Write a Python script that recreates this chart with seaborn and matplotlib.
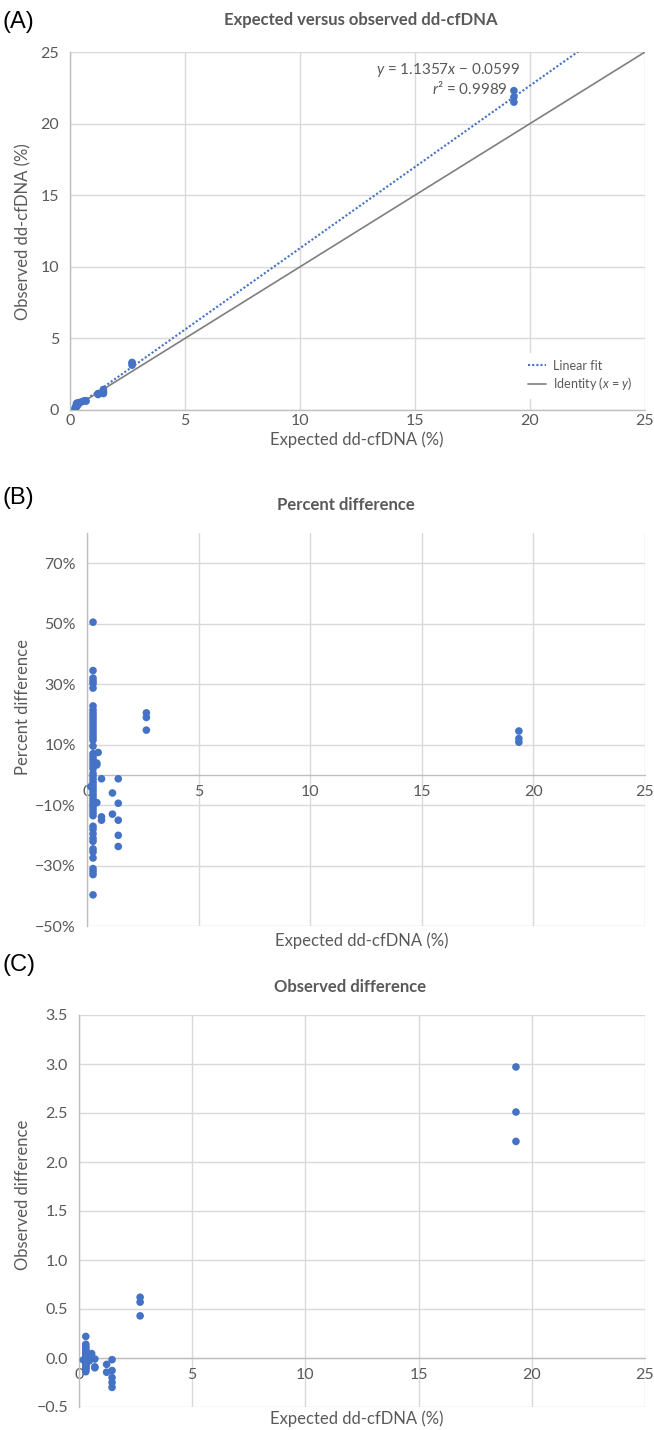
"""
Expected vs observed dd-cfDNA - three stacked panels
"""

import numpy as np
import pandas as pd
import matplotlib
matplotlib.use('Agg')
import matplotlib.pyplot as plt
import seaborn as sns

# ── Données ──────────────────────────────────────────────────────────────
# (A) expected vs observed
exp_a = [0.22, 0.25, 0.27, 0.30, 0.28, 0.33, 0.43, 0.40, 0.55, 0.65, 0.70, 0.30, 0.35,
         1.22, 1.22, 1.45, 1.45, 1.45, 1.45, 1.45,
         2.70, 2.70, 2.70, 19.30, 19.30, 19.30]
obs_a = [0.14, 0.20, 0.30, 0.35, 0.45, 0.50, 0.53, 0.48, 0.60, 0.65, 0.62, 0.25, 0.38,
         1.15, 1.08, 1.43, 1.32, 1.25, 1.20, 1.15,
         3.32, 3.27, 3.13, 22.30, 21.85, 21.50]
fit_slope, fit_icpt = 1.1357, -0.0599

# (B) percent difference
pct_col = [50.5, 34.5, 32.0, 31.0, 30.2, 28.7, 22.8, 21.5, 20.5, 19.5, 18.5, 17.5, 16.5,
           15.5, 14.5, 13.5, 12.5, 11.5, 9.5, 7.0, 6.0, 5.0, 4.0, 3.0, 2.0, 0.5, -0.5,
           -1.5, -2.5, -3.5, -4.5, -5.5, -6.5, -7.5, -8.5, -9.5, -10.5, -11.5, -12.5,
           -13.5, -17.0, -18.0, -19.5, -21.0, -22.0, -24.5, -25.5, -27.5, -31.0, -32.0,
           -33.0, -39.7]
exp_b = [0.27] * len(pct_col) + [0.17, 0.44, 0.44, 0.44, 0.50, 0.65, 0.65, 0.65,
                                 1.14, 1.14, 1.40, 1.40, 1.40, 1.40, 1.40,
                                 2.66, 2.66, 2.66, 19.35, 19.35, 19.35]
pct_b = pct_col + [-3.9, 3.3, 3.9, -9.2, 7.4, -1.3, -13.9, -15.0,
                   -6.0, -13.0, -1.3, -9.4, -15.0, -20.0, -23.7,
                   20.5, 19.0, 14.8, 14.5, 12.0, 10.8]
pct_ticks = [-50, -30, -10, 10, 30, 50, 70]
pct_labels = ['−50%', '−30%', '−10%', '10%', '30%', '50%', '70%']

# (C) observed difference
diff_col = [0.22, 0.14, 0.12, 0.10, 0.08, 0.07, 0.06, 0.05, 0.04, 0.03, 0.02, 0.01, 0.0,
            -0.01, -0.02, -0.03, -0.04, -0.05, -0.06, -0.07, -0.08, -0.09, -0.10, -0.11,
            -0.12, -0.14]
exp_c = [0.30] * len(diff_col) + [0.19, 0.45, 0.45, 0.45, 0.56, 0.70, 0.70, 0.70,
                                  1.22, 1.22, 1.46, 1.46, 1.46, 1.46, 1.46,
                                  2.70, 2.70, 2.70, 19.30, 19.30, 19.30]
diff_c = diff_col + [-0.02, 0.02, 0.01, -0.03, 0.045, -0.01, -0.09, -0.10,
                     -0.065, -0.145, -0.017, -0.128, -0.20, -0.25, -0.30,
                     0.62, 0.57, 0.43, 2.97, 2.51, 2.21]
diff_ticks = [-0.5, 0.0, 0.5, 1.0, 1.5, 2.0, 2.5, 3.0, 3.5]
diff_labels = ['−0.5', '0.0', '0.5', '1.0', '1.5', '2.0', '2.5', '3.0', '3.5']
x_ticks = [0, 5, 10, 15, 20, 25]

df_a = pd.DataFrame({'expected': exp_a, 'observed': obs_a})
df_b = pd.DataFrame({'expected': exp_b, 'pct': pct_b})
df_c = pd.DataFrame({'expected': exp_c, 'diff': diff_c})

# ── Style ────────────────────────────────────────────────────────────────
sns.set_theme(style='white')
plt.rcParams['font.family'] = ['Lato', 'DejaVu Sans']
plt.rcParams['mathtext.fontset'] = 'custom'
plt.rcParams['mathtext.it'] = 'Lato:italic'
plt.rcParams['mathtext.rm'] = 'Lato'

BLUE = '#4472C4'
GRID = '#D9D9D9'
AXIS = '#BFBFBF'
TXT = '#595959'
W, H = 654, 1430

fig = plt.figure(figsize=(6.54, 14.3), dpi=100)


def box(l, t, r, b):
    return [l / W, 1 - b / H, (r - l) / W, (b - t) / H]


def px(x, y, s, **kw):
    fig.text(x / W, 1 - y / H, s, **kw)


def style(ax):
    ax.grid(True, color=GRID, lw=1)
    ax.set_axisbelow(True)
    for s in ['top', 'right']:
        ax.spines[s].set_visible(False)
    for s in ['left', 'bottom']:
        ax.spines[s].set_color(AXIS)
        ax.spines[s].set_linewidth(1)
    ax.tick_params(length=0, colors=TXT, labelsize=11.5)
    ax.tick_params(axis='y', pad=8)
    ax.tick_params(axis='x', pad=3)
    ax.set_xlabel('')
    ax.set_ylabel('')


# ── (A) ──────────────────────────────────────────────────────────────────
axA = fig.add_axes(box(70, 52, 645, 410))
xs = np.array([0, 25])
axA.plot(xs, fit_slope * xs + fit_icpt, ls=(0, (1, 1)), color=BLUE, lw=1.5,
         label='Linear fit', zorder=2)
axA.plot(xs, xs, color='#7F7F7F', lw=1.2, label='Identity ($x$ = $y$)', zorder=2)
sns.scatterplot(data=df_a, x='expected', y='observed', ax=axA, color=BLUE,
                s=30, edgecolor='none', zorder=3)
axA.set_xlim(0, 25)
axA.set_ylim(0, 25)
axA.set_xticks(x_ticks)
axA.set_yticks([0, 5, 10, 15, 20, 25])
style(axA)
axA.text(19.6, 23.75, '$y$ = 1.1357$x$ − 0.0599', ha='right', va='center',
         color=TXT, fontsize=11)
axA.text(19.05, 22.45, '$r$² = 0.9989', ha='right', va='center',
         color=TXT, fontsize=11)
leg = axA.legend(loc='center right', bbox_to_anchor=(1.0, 0.095), fontsize=9,
                 handlelength=1.4, frameon=True, facecolor='white',
                 edgecolor='none', framealpha=1, labelspacing=0.3,
                 borderpad=0.5, handletextpad=0.6)
for t in leg.get_texts():
    t.set_color(TXT)

# ── (B) ──────────────────────────────────────────────────────────────────
axB = fig.add_axes(box(87, 533, 645, 926))
sns.scatterplot(data=df_b, x='expected', y='pct', ax=axB, color=BLUE,
                s=30, edgecolor='none', zorder=3)
axB.set_xlim(0, 25)
axB.set_ylim(-50, 80)
axB.set_xticks(x_ticks)
axB.set_yticks(pct_ticks)
axB.set_yticklabels(pct_labels)
style(axB)
axB.spines['bottom'].set_position(('data', 0))
axB.tick_params(axis='x', pad=7)

# ── (C) ──────────────────────────────────────────────────────────────────
axC = fig.add_axes(box(79, 1015, 645, 1407))
sns.scatterplot(data=df_c, x='expected', y='diff', ax=axC, color=BLUE,
                s=30, edgecolor='none', zorder=3)
axC.set_xlim(0, 25)
axC.set_ylim(-0.5, 3.5)
axC.set_xticks(x_ticks)
axC.set_yticks(diff_ticks)
axC.set_yticklabels(diff_labels)
style(axC)
axC.spines['bottom'].set_position(('data', 0))
axC.tick_params(axis='x', pad=7)

# ── Textes ───────────────────────────────────────────────────────────────
title_kw = dict(ha='center', va='center', color=TXT, fontsize=12,
                fontweight='bold')
lab_kw = dict(ha='center', va='center', color=TXT, fontsize=12)
let_kw = dict(ha='left', va='center', color='black', fontsize=17,
              family='Liberation Sans')

px(3, 22, '(A)', **let_kw)
px(361, 20, 'Expected versus observed dd-cfDNA', **title_kw)
px(357, 440, 'Expected dd-cfDNA (%)', **lab_kw)
px(23, 232, 'Observed dd-cfDNA (%)', rotation=90, **lab_kw)

px(3, 498, '(B)', **let_kw)
px(346, 505, 'Percent difference', **title_kw)
px(362, 941, 'Expected dd-cfDNA (%)', **lab_kw)
px(23, 707, 'Percent difference', rotation=90, **lab_kw)

px(3, 965, '(C)', **let_kw)
px(350, 987, 'Observed difference', **title_kw)
px(357, 1419, 'Expected dd-cfDNA (%)', **lab_kw)
px(23, 1195, 'Observed difference', rotation=90, **lab_kw)

plt.savefig('out.png', dpi=100)
plt.close()
